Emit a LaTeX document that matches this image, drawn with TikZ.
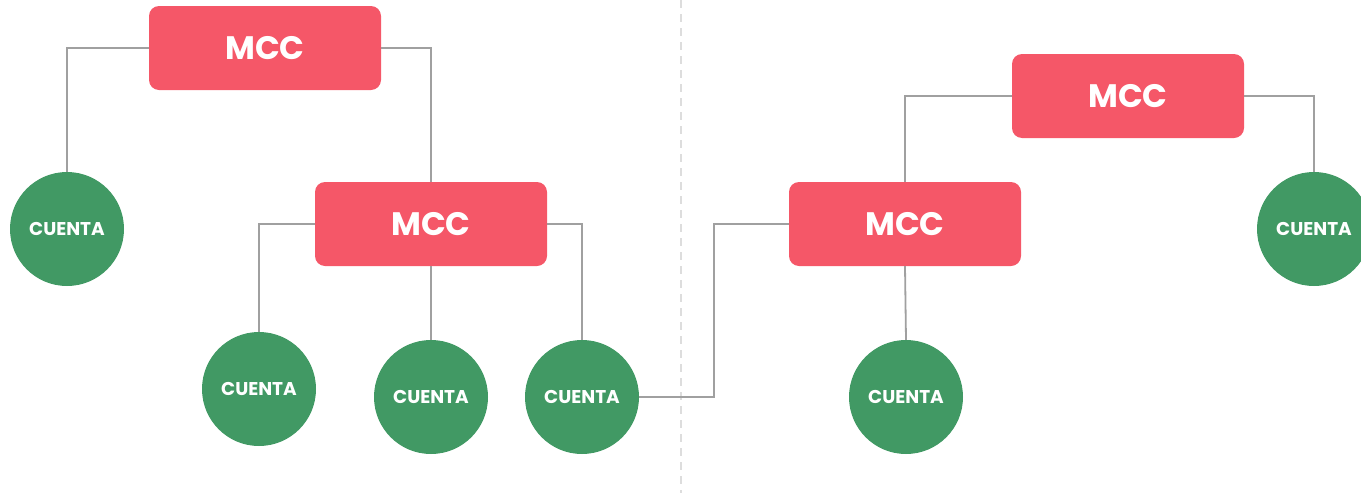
\documentclass[tikz,border=0pt]{standalone}
\usepackage{fontspec}
\setmainfont{Poppins}
\definecolor{mccred}{HTML}{F55768}
\definecolor{cuentagreen}{HTML}{419964}
\definecolor{linegray}{HTML}{A0A0A0}
\definecolor{splitgray}{HTML}{DDDDDD}
\begin{document}
\begin{tikzpicture}[x=1pt, y=-1pt,
    mcc/.style={rectangle, rounded corners=10pt, fill=mccred, minimum width=232pt, minimum height=84pt, text=white, font=\bfseries\fontsize{32.5}{32.5}\selectfont},
    cuenta/.style={circle, fill=cuentagreen, minimum size=114pt, inner sep=0pt, text=white, font=\bfseries\fontsize{18.5}{18.5}\selectfont},
    link/.style={draw=linegray, line width=1.8pt}]
    \useasboundingbox (0,0) rectangle (1361,493);
    \clip (0,0) rectangle (1361,493);

    \draw[splitgray, line width=2pt, dash pattern=on 8pt off 6pt] (681,0) -- (681,493);

    % left tree
    \node[mcc] (mccA) at (265,48) {MCC};
    \node[mcc] (mccB) at (431,224) {MCC};
    \node[cuenta] (cA) at (67,229) {CUENTA\hspace{5pt}};
    \node[cuenta] (cB) at (259,389) {CUENTA\hspace{5pt}};
    \node[cuenta] (cC) at (431,397) {CUENTA\hspace{5pt}};
    \node[cuenta] (cD) at (582,397) {CUENTA\hspace{5pt}};

    % right tree
    \node[mcc] (mccC) at (1128,96) {MCC};
    \node[mcc] (mccD) at (905,224) {MCC};
    \node[cuenta] (cE) at (906,397) {CUENTA\hspace{5pt}};
    \node[cuenta] (cF) at (1314,229) {CUENTA\hspace{5pt}};
    \coordinate (bend) at (714,397);

    \draw[link] (mccA.west) -| (cA.north);
    \draw[link] (mccA.east) -| (mccB.north);
    \draw[link] (mccB.west) -| (cB.north);
    \draw[link] (mccB.south) -- (cC.north);
    \draw[link] (mccB.east) -| (cD.north);
    \draw[link] (cD.east) -- (bend) |- (mccD.west);
    \draw[link] (mccD.north) |- (mccC.west);
    \draw[link] (mccC.east) -| (cF.north);
    \draw[link] (mccD.south) -- (cE.north);
\end{tikzpicture}
\end{document}
